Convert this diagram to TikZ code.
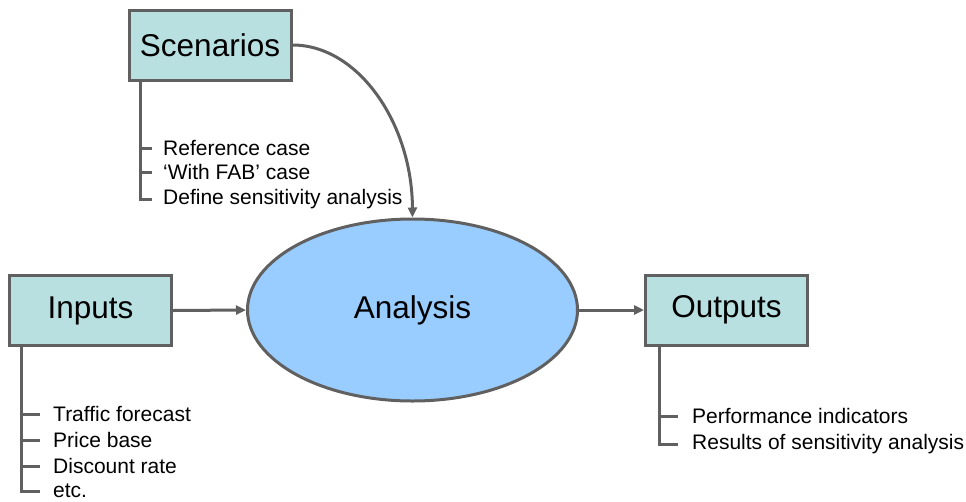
\documentclass[tikz,border=0pt]{standalone}
\usepackage{fontspec}
\setmainfont{Liberation Sans}
\usetikzlibrary{arrows.meta,shapes.geometric}
\definecolor{boxfill}{HTML}{B9E0E1}
\definecolor{ellfill}{HTML}{99CCFF}
\definecolor{edge}{HTML}{606060}
\begin{document}
\begin{tikzpicture}[x=1pt,y=-1pt,
  mainbox/.style={draw=edge,line width=3pt,fill=boxfill,minimum width=162pt,minimum height=70pt,inner sep=0pt,font=\fontsize{31.5}{36}\selectfont},
  ellnode/.style={ellipse,draw=edge,line width=3pt,fill=ellfill,minimum width=330pt,minimum height=182pt,inner sep=0pt,font=\fontsize{31.5}{36}\selectfont},
  item/.style={anchor=west,inner sep=0pt,font=\fontsize{21}{24}\selectfont},
  tree/.style={draw=edge,line width=3pt},
  conn/.style={draw=edge,line width=3pt,-{Triangle[length=10pt,width=9pt]}}]
\useasboundingbox (0,0) rectangle (966,501);
\node[mainbox] (scen) at (210,45) {Scenarios};
\node[mainbox] (inp) at (90.5,310.5) {Inputs};
\node[mainbox] (out) at (726.5,310) {Outputs};
\node[ellnode] (an) at (412.5,310) {Analysis};
% scenario items
\node[item] (s1) at (163,148) {Reference case};
\node[item] (s2) at (163,172) {‘With FAB’ case};
\node[item] (s3) at (163,199) {Define sensitivity analysis};
\coordinate (sc) at (140.5,80);
\draw[tree] (sc) |- ([xshift=-11pt]s3.west);
\draw[tree] (sc|-s1.west) -- ([xshift=-11pt]s1.west);
\draw[tree] (sc|-s2.west) -- ([xshift=-11pt]s2.west);
% input items
\node[item] (i1) at (53,414) {Traffic forecast};
\node[item] (i2) at (53,440) {Price base};
\node[item] (i3) at (53,466) {Discount rate};
\node[item] (i4) at (53,491) {etc.};
\coordinate (ic) at (21,346);
\draw[tree] (ic) |- ([xshift=-13pt]i4.west);
\draw[tree] (ic|-i1.west) -- ([xshift=-13pt]i1.west);
\draw[tree] (ic|-i2.west) -- ([xshift=-13pt]i2.west);
\draw[tree] (ic|-i3.west) -- ([xshift=-13pt]i3.west);
% output items
\node[item] (o1) at (692,416) {Performance indicators};
\node[item] (o2) at (692,444) {Results of sensitivity analysis};
\coordinate (oc) at (659,345);
\draw[tree] (oc) |- ([xshift=-14pt]o2.west);
\draw[tree] (oc|-o1.west) -- ([xshift=-14pt]o1.west);
% connectors
\draw[conn] (inp.east) -- (an.west);
\draw[conn] (an.east) -- (out.west);
\draw[conn] (scen.east) .. controls (358,45) and (412,123) .. (an.north);
\end{tikzpicture}
\end{document}
